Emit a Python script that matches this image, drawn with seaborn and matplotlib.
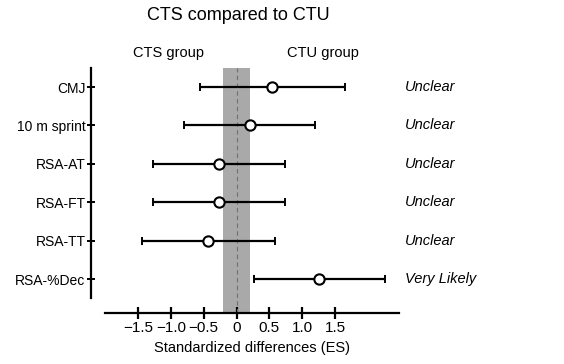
import matplotlib
matplotlib.use("Agg")
import matplotlib.pyplot as plt
import numpy as np
import pandas as pd
import seaborn as sns

# --- data ---
outcomes = ['CMJ', '10 m sprint', 'RSA-AT', 'RSA-FT', 'RSA-TT', 'RSA-%Dec']
es = [0.54, 0.20, -0.27, -0.27, -0.43, 1.25]
ci_low = [-0.55, -0.80, -1.27, -1.27, -1.44, 0.26]
ci_high = [1.65, 1.20, 0.74, 0.74, 0.58, 2.26]
inference = ['Unclear', 'Unclear', 'Unclear', 'Unclear', 'Unclear', 'Very Likely']
xticks = [-1.5, -1.0, -0.5, 0, 0.5, 1.0, 1.5]
xtick_labels = ['\u22121.5', '\u22121.0', '\u22120.5', '0', '0.5', '1.0', '1.5']
trivial = (-0.2, 0.2)

df = pd.DataFrame({'outcome': outcomes, 'es': es, 'lo': ci_low, 'hi': ci_high,
                   'inf': inference})
df['row'] = np.arange(len(df))

sns.set_style('ticks', {'text.color': 'black', 'xtick.color': 'black',
                        'ytick.color': 'black', 'axes.edgecolor': 'black',
                        'axes.labelcolor': 'black'})
plt.rcParams['font.family'] = ['Liberation Sans', 'DejaVu Sans']

fig = plt.figure(figsize=(5.64, 3.64), dpi=100)
ax = fig.add_axes([105 / 564, 1 - 313 / 364, 294 / 564, 245 / 364])

# smallest worthwhile change band
ax.axvspan(*trivial, color='#a9a9a9', lw=0, zorder=0)
ax.axvline(0, color='#707070', lw=0.8, ls=(0, (4, 3)), zorder=1)

# confidence limits
ax.errorbar(df['es'], df['row'],
            xerr=[df['es'] - df['lo'], df['hi'] - df['es']],
            fmt='none', ecolor='black', elinewidth=1.6, capsize=3,
            capthick=1.4, zorder=2)
sns.scatterplot(data=df, x='es', y='row', ax=ax, s=55, color='white',
                edgecolor='black', linewidth=1.5, zorder=3, legend=False)

ax.set_xlim(-2.0, 2.47)
ax.set_ylim(5.885, -0.495)
ax.set_yticks(df['row'])
ax.set_yticklabels(outcomes, fontsize=11)
ax.set_xticks(xticks)
ax.set_xticklabels(xtick_labels, fontsize=11)
ax.set_ylabel('')
ax.set_xlabel('Standardized differences (ES)', fontsize=10.5, labelpad=4)

ax.spines['top'].set_visible(False)
ax.spines['right'].set_visible(False)
ax.spines['left'].set_position(('outward', 10))
ax.spines['left'].set_bounds(-0.5, 5.5)
ax.spines['left'].set_linewidth(1.6)
ax.spines['bottom'].set_linewidth(1.6)
ax.tick_params(axis='y', direction='inout', length=6, width=1.4, pad=1)
ax.tick_params(axis='x', direction='inout', length=8, width=1.6, pad=2)

for _, r in df.iterrows():
    ax.text(2.56, r['row'], r['inf'], fontsize=10.5, style='italic',
            va='center', ha='left', clip_on=False)

ax.text(-1.04, -0.89, 'CTS group', fontsize=10.5, ha='center', va='center')
ax.text(1.31, -0.89, 'CTU group', fontsize=10.5, ha='center', va='center')
fig.text(238 / 564, 1 - 15 / 364, 'CTS compared to CTU', fontsize=13,
         ha='center', va='center')

fig.savefig('out.png', dpi=100)
